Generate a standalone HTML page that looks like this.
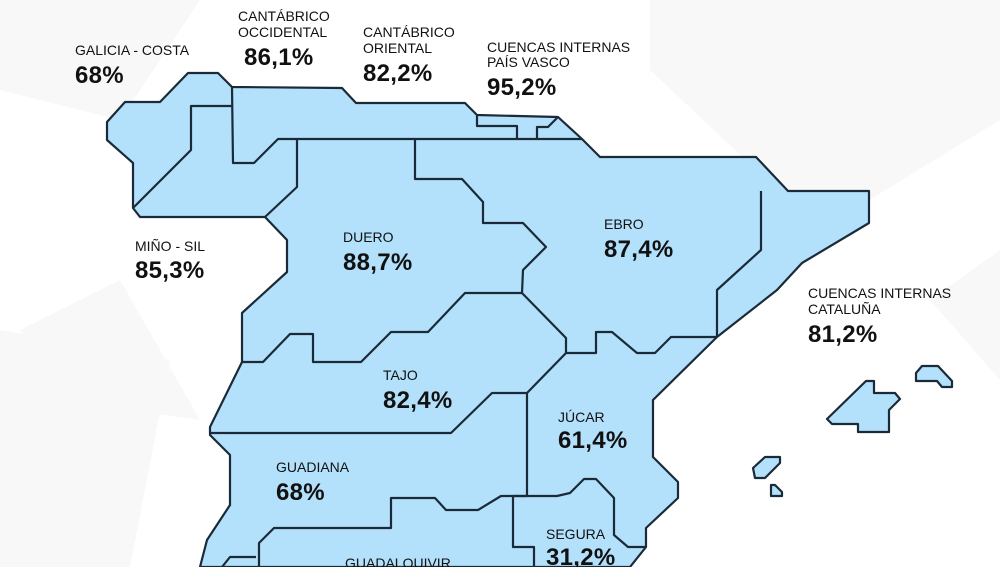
<!DOCTYPE html>
<html><head><meta charset="utf-8"><style>
html,body{margin:0;padding:0;background:#fff;}
svg{display:block}
text{font-family:"Liberation Sans Narrow","Liberation Sans",sans-serif;fill:#111;}
.t{font-size:14px;}
.v{font-size:24px;font-weight:bold;letter-spacing:0.3px;}
</style></head><body>
<svg width="1000" height="567" viewBox="0 0 1000 567" xmlns="http://www.w3.org/2000/svg">
<g fill="#f8f8f9">
<polygon points="0,0 200,0 120,120 0,90"/>
<polygon points="650,0 1000,0 1000,120 820,230 650,70"/>
<polygon points="0,330 170,360 130,567 0,567"/>
<polygon points="1000,250 930,300 1000,380"/>
<polygon points="20,330 120,280 200,420 60,400"/>
</g>
<g fill="#b3e0fb" stroke="#1b2a38" stroke-width="2.2" stroke-linejoin="round">
<polygon points="107,122 125,102 160,102 188,73 218,73 232,87 342,88 356,103 465,103 477,115 558,117 582,139 600,157 756,157 788,191 869,191 869,223 802,263 777,290 717,337 653,400 653,457 678,482 678,498 646,528 646,547 630,567 200,567 207,540 230,505 230,455 210,435 210,427 242,362 242,313 287,272 287,240 265,217 140,217 133,208 133,163 107,140"/>
<polygon points="866,381 874,381 874,393 895,393 900,399 889,410 889,432 858,432 858,424 832,424 827,419"/>
<polygon points="922,366 938,366 952,381 952,387 942,387 937,381 916,381 916,373"/>
<polygon points="765,457 780,457 780,463 765,478 755,478 753,468"/>
<polygon points="771,485 775,485 782,492 782,496 771,496"/>
</g>
<g fill="none" stroke="#1b2a38" stroke-width="2.2" stroke-linejoin="round">
<polyline points="133,208 191,150 191,106 232,106"/>
<polyline points="232,87 233,163 254,163 278,139 582,139"/>
<polyline points="297,139 297,187 265,217"/>
<polyline points="477,115 477,126 517,126 517,139"/>
<polyline points="537,139 537,127 548,127 558,117"/>
<polyline points="415,139 415,179 462,179 483,202 483,223 523,223 546,247 523,270 522,293"/>
<polyline points="522,293 465,293 428,332 391,332 361,362 313,362 313,334 290,334 263,362 242,362"/>
<polyline points="522,293 566,338 566,353 596,353 596,332 612,332 637,353 655,353 671,337 717,337"/>
<polyline points="717,337 717,290 761,250 761,191"/>
<polyline points="566,353 527,393 492,393 451,433 210,433"/>
<polyline points="527,393 527,496"/>
<polyline points="527,496 501,496 478,510 446,510 435,498 391,498 391,528 274,528 259,543 259,567"/>
<polyline points="256,557 230,557 222,567"/>
<polyline points="513,496 513,547 534,547 534,567"/>
<polyline points="513,496 557,496 570,493 584,479 596,479 614,498 614,535 628,547 646,547"/>
</g>
<text class="t" x="75" y="55">GALICIA - COSTA</text>
<text class="v" x="75" y="83">68%</text>
<text class="t" x="238" y="21">CANTÁBRICO</text>
<text class="t" x="238" y="37">OCCIDENTAL</text>
<text class="v" x="244" y="65">86,1%</text>
<text class="t" x="363" y="37">CANTÁBRICO</text>
<text class="t" x="363" y="53">ORIENTAL</text>
<text class="v" x="363" y="81">82,2%</text>
<text class="t" x="487" y="52">CUENCAS INTERNAS</text>
<text class="t" x="487" y="67">PAÍS VASCO</text>
<text class="v" x="487" y="95">95,2%</text>
<text class="t" x="135" y="251">MIÑO - SIL</text>
<text class="v" x="135" y="278">85,3%</text>
<text class="t" x="343" y="242">DUERO</text>
<text class="v" x="343" y="270">88,7%</text>
<text class="t" x="604" y="229">EBRO</text>
<text class="v" x="604" y="257">87,4%</text>
<text class="t" x="808" y="298">CUENCAS INTERNAS</text>
<text class="t" x="808" y="314">CATALUÑA</text>
<text class="v" x="808" y="342">81,2%</text>
<text class="t" x="383" y="380">TAJO</text>
<text class="v" x="383" y="408">82,4%</text>
<text class="t" x="558" y="422">JÚCAR</text>
<text class="v" x="558" y="448">61,4%</text>
<text class="t" x="276" y="472">GUADIANA</text>
<text class="v" x="276" y="500">68%</text>
<text class="t" x="546" y="539">SEGURA</text>
<text class="v" x="546" y="565">31,2%</text>
<text class="t" x="345" y="568">GUADALQUIVIR</text>
</svg>
</body></html>
